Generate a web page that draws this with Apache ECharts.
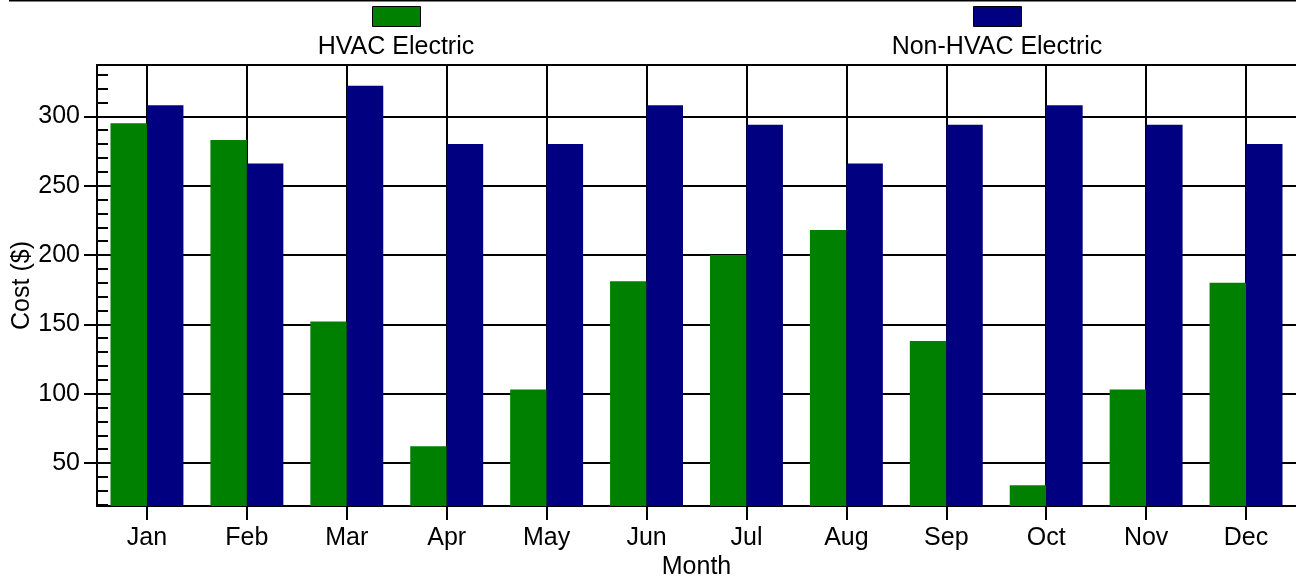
<!DOCTYPE html>
<html>
<head>
<meta charset="utf-8">
<script src="https://cdn.jsdelivr.net/npm/echarts@6/dist/echarts.min.js"></script>
<style>
html,body{margin:0;padding:0;background:#fff;}
#chart{width:1296px;height:580px;}
</style>
</head>
<body>
<div id="chart"></div>
<script>
const months = ['Jan','Feb','Mar','Apr','May','Jun','Jul','Aug','Sep','Oct','Nov','Dec'];
const seriesNames = ['HVAC Electric','Non-HVAC Electric'];
const hvac = [295, 283, 152, 62, 103, 181, 200, 218, 138, 34, 103, 180];
const nonHvac = [308, 266, 322, 280, 280, 308, 294, 266, 294, 308, 294, 280];
const yTicks = [50, 100, 150, 200, 250, 300];
const yMin = 19, yMax = 337;
const yName = 'Cost ($)';
const xName = 'Month';

const FONT = "'Liberation Sans', Arial, sans-serif";
const FS = 25;
const colors = ['#008000', '#000080'];
const chart = echarts.init(document.getElementById('chart'), null, {renderer: 'canvas'});

const option = {
  animation: false,
  backgroundColor: '#fff',
  textStyle: {fontFamily: FONT, color: '#000'},
  grid: {left: 97, right: 0, top: 65, bottom: 74, containLabel: false, outerBoundsMode: 'none'},
  legend: [
    {data: [seriesNames[0]], left: 372, top: 6, padding: 0, icon: 'rect', itemWidth: 48, itemHeight: 20,
     selectedMode: false, formatter: () => '', itemStyle: {borderColor: '#000', borderWidth: 1}},
    {data: [seriesNames[1]], left: 973, top: 6, padding: 0, icon: 'rect', itemWidth: 48, itemHeight: 20,
     selectedMode: false, formatter: () => '', itemStyle: {borderColor: '#000', borderWidth: 1}}
  ],
  graphic: [
    {type: 'line', shape: {x1: 9, y1: 0.5, x2: 1296, y2: 0.5}, style: {stroke: '#000', lineWidth: 2}, silent: true},
    {type: 'text', x: 396, y: 47, style: {text: seriesNames[0], fill: '#000', font: FS + "px " + FONT, textAlign: 'center', textVerticalAlign: 'middle'}},
    {type: 'text', x: 997, y: 47, style: {text: seriesNames[1], fill: '#000', font: FS + "px " + FONT, textAlign: 'center', textVerticalAlign: 'middle'}}
  ],
  xAxis: [
    {
      type: 'category', data: months, position: 'bottom',
      name: xName, nameLocation: 'middle', nameGap: 49, nameMoveOverlap: false,
      nameTextStyle: {fontSize: FS, color: '#000', fontFamily: FONT},
      axisLine: {show: true, onZero: false, lineStyle: {color: '#000', width: 2}},
      axisTick: {show: true, alignWithLabel: true, length: 14, lineStyle: {color: '#000', width: 2}},
      axisLabel: {fontSize: FS, color: '#000', margin: 20, fontFamily: FONT},
      splitLine: {show: false}
    },
    {
      type: 'value', position: 'top', min: -0.5, max: months.length - 0.5,
      minInterval: 1, maxInterval: 1,
      axisLine: {show: true, onZero: false, lineStyle: {color: '#000', width: 2}},
      axisTick: {show: false, customValues: months.map((_, i) => i)},
      axisLabel: {show: false},
      splitLine: {show: true, lineStyle: {color: '#000', width: 2}}
    }
  ],
  yAxis: [
    {
      type: 'value', min: yMin, max: yMax, position: 'left',
      name: yName, nameLocation: 'middle', nameGap: 62, nameMoveOverlap: false,
      nameTextStyle: {fontSize: FS, color: '#000', fontFamily: FONT},
      axisLine: {show: true, onZero: false, lineStyle: {color: '#000', width: 2}},
      axisTick: {show: true, length: 13, customValues: yTicks, lineStyle: {color: '#000', width: 2}},
      axisLabel: {fontSize: FS, color: '#000', margin: 17, customValues: yTicks, fontFamily: FONT},
      splitLine: {show: true, lineStyle: {color: '#000', width: 2}}
    },
    {
      type: 'value', min: yMin, max: yMax, position: 'left', splitNumber: 6,
      minInterval: 50, maxInterval: 50,
      axisLine: {show: false, onZero: false},
      axisTick: {show: false, inside: true},
      axisLabel: {show: false},
      splitLine: {show: false},
      minorTick: {show: true, splitNumber: 5, length: 11, lineStyle: {color: '#000', width: 2}}
    }
  ],
  series: [
    {name: seriesNames[0], type: 'bar', data: hvac, xAxisIndex: 0, yAxisIndex: 0,
     barGap: '0%', barCategoryGap: '27%', itemStyle: {color: colors[0]}},
    {name: seriesNames[1], type: 'bar', data: nonHvac, xAxisIndex: 0, yAxisIndex: 0,
     barGap: '0%', barCategoryGap: '27%', itemStyle: {color: colors[1]}}
  ]
};
chart.setOption(option);
</script>
</body>
</html>
